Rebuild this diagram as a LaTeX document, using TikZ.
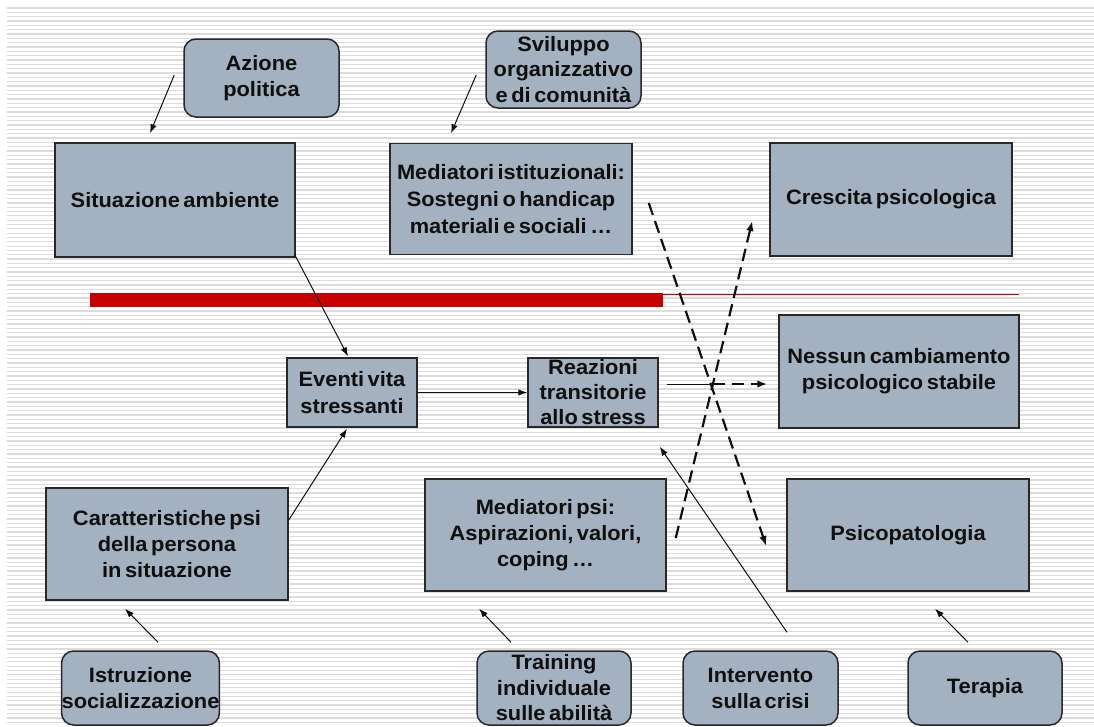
\documentclass[tikz,border=0pt]{standalone}
\usepackage{fontspec}
\setmainfont{Liberation Sans}[FakeStretch=1.05]
\usetikzlibrary{arrows.meta,calc}

\definecolor{boxfill}{RGB}{164,177,192}
\definecolor{boxline}{RGB}{40,40,40}
\definecolor{barred}{RGB}{200,0,0}
\definecolor{stripe}{RGB}{220,220,220}
\definecolor{ink}{RGB}{15,15,15}

% bold label font with a given baseline skip and tight word spacing
\newcommand{\labelfont}[1]{\fontsize{20.8}{#1}\selectfont\bfseries\spaceskip=0.17em plus 0.05em\relax}

\tikzset{
  box/.style={draw=boxline, line width=1.5pt, fill=boxfill, inner sep=0pt,
    align=center, text=ink, font=\labelfont{26}},
  rbox/.style={box, rounded corners=12pt},
  arr/.style={line width=1pt, draw=ink, -{Latex[length=9pt,width=6.5pt]}},
  darr/.style={line width=2.2pt, draw=ink, dash pattern=on 12.5pt off 6.5pt,
    -{Latex[length=10pt,width=7.5pt]}},
  plain/.style={line width=1pt, draw=ink},
  stripeline/.style={draw=stripe, line width=1.3pt}
}

\begin{document}
\begin{tikzpicture}[x=1pt, y=-1pt]
  % page and ruled background
  \useasboundingbox (0,0) rectangle (1094,726);
  \fill[white] (0,0) rectangle (1094,726);
  \foreach \i in {0,...,165} {
    \draw[stripeline] (7,{8+4.33*\i}) -- (1094,{8+4.33*\i});
  }

  % red separator
  \fill[barred] (90,293) rectangle (663,307);
  \draw[barred, line width=0.8pt] (663,294) -- (1019,294);

  % upper row
  \node[rbox, minimum width=155pt, minimum height=78pt] (ap) at (261.5,78) {Azione\\politica};
  \node[rbox, minimum width=155pt, minimum height=77pt, font=\labelfont{25.5}] (sv) at (563.5,69.5) {Sviluppo\\organizzativo\\e di comunità};
  \node[box, minimum width=240pt, minimum height=114pt] (sa) at (175,200) {Situazione ambiente};
  \node[box, minimum width=242pt, minimum height=111pt, font=\labelfont{27}] (mi) at (511,199) {Mediatori istituzionali:\\Sostegni o handicap\\materiali e sociali …};
  \node[box, minimum width=242pt, minimum height=113pt] (cp) at (891,199.5) {Crescita psicologica};

  % middle row
  \node[box, minimum width=130pt, minimum height=69pt, font=\labelfont{27}] (ev) at (352,392.5) {Eventi vita\\stressanti};
  \node[box, minimum width=130pt, minimum height=69pt, font=\labelfont{25}] (re) at (593,392.5) {Reazioni\\transitorie\\allo stress};
  \node[box, minimum width=240pt, minimum height=113pt] (nc) at (899,371.5) {Nessun cambiamento\\psicologico stabile};

  % lower row
  \node[box, minimum width=242pt, minimum height=112pt] (ca) at (167,544) {Caratteristiche psi\\della persona\\in situazione};
  \node[box, minimum width=241pt, minimum height=112pt] (mp) at (545.5,535) {Mediatori psi:\\Aspirazioni, valori,\\coping …};
  \node[box, minimum width=242pt, minimum height=112pt] (ps) at (908,535) {Psicopatologia};

  % interventions
  \node[rbox, minimum width=155pt, minimum height=74pt] (is) at (140.5,688) {Istruzione\\socializzazione};
  \node[rbox, minimum width=154pt, minimum height=74pt, font=\labelfont{25.5}] (tr) at (554,688) {Training\\individuale\\sulle abilità};
  \node[rbox, minimum width=155pt, minimum height=74pt] (ic) at (760.5,688) {Intervento\\sulla crisi};
  \node[rbox, minimum width=154pt, minimum height=74pt] (te) at (985,688) {Terapia};

  % influences from above
  \draw[arr] ($(ap.west)+(-9,-3)$) -- ($(sa.north)+(-25,-9)$);
  \draw[arr] ($(sv.west)+(-9,5.5)$) -- ($(mi.north)+(-60,-9.5)$);

  % main causal chain
  \draw[arr] ($(sa.south east)+(-1,-3)$) -- ($(ev.north)+(-4,-1)$);
  \draw[arr] ($(ca.east)+(0,-24)$) -- ($(ev.south)+(-5,1)$);
  \draw[arr] (ev.east) -- (re.west);

  % possible outcomes
  \coordinate (cross) at ($(re.east)+(54,-8.5)$);
  \draw[plain] ($(re.east)+(8,-8.5)$) -- (cross);
  \draw[darr] (cross) -- ($(nc.west)+(-11,12.5)$);
  \draw[darr] ($(mi.east)+(16,4)$) -- ($(ps.west)+(-20,11)$);
  \draw[darr] ($(mp.east)+(9,3)$) -- ($(cp.west)+(-17,21.5)$);

  % interventions from below
  \draw[arr] ($(ic.north)+(26.5,-18)$) -- ($(re.south east)+(1,19)$);
  \draw[arr] ($(is.north)+(17.5,-8)$) -- ($(ca.south)+(-42,8)$);
  \draw[arr] ($(tr.north)+(-43,-8)$) -- ($(mp.south)+(-66.5,17)$);
  \draw[arr] ($(te.north)+(-17,-8)$) -- ($(ps.south)+(27,17)$);
\end{tikzpicture}
\end{document}
